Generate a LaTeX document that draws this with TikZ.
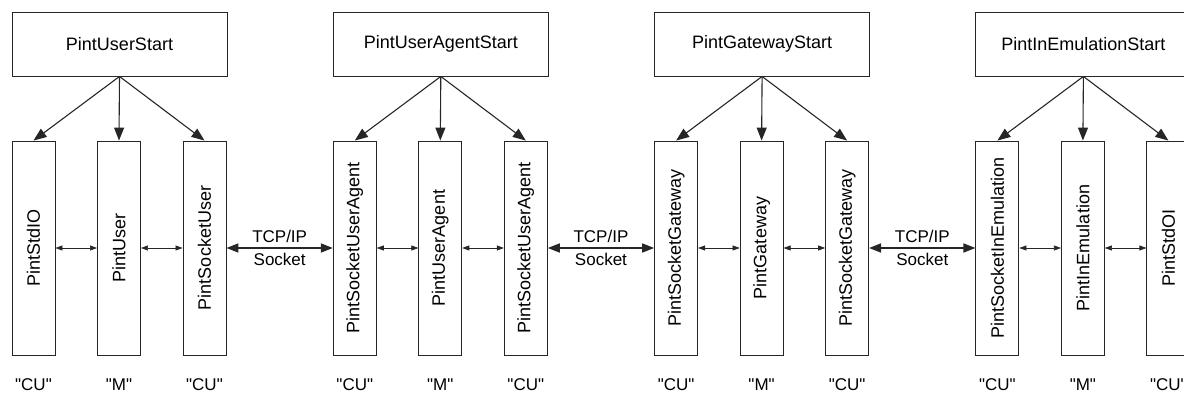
\documentclass[tikz,border=0pt]{standalone}
\usepackage{fontspec}
\usepackage{graphicx}
\setmainfont{Liberation Sans}
\usetikzlibrary{arrows.meta,calc}
\begin{document}
\begin{tikzpicture}[x=1pt,y=-1pt,
  ink/.style={draw=black!85},
  startbox/.style={ink, line width=0.9pt, minimum width=215pt, minimum height=64pt,
    inner sep=0pt, font=\fontsize{18}{21}\selectfont},
  modbox/.style={ink, line width=0.9pt, minimum width=43pt, minimum height=214pt,
    inner sep=0pt, font=\fontsize{18}{21}\selectfont},
  rolelabel/.style={font=\fontsize{17}{20}\selectfont, inner sep=0pt},
  spawn/.style={ink, line width=1.1pt, -{Triangle[length=13pt,width=10pt]}},
  link/.style={ink, line width=0.6pt, {Triangle[length=7pt,width=5pt]}-{Triangle[length=7pt,width=5pt]}},
  tcp/.style={ink, line width=1.6pt, {Triangle[length=12pt,width=9pt]}-{Triangle[length=12pt,width=9pt]}},
  tcplabel/.style={font=\fontsize{17}{23}\selectfont, align=center, inner sep=0pt}
]
\clip (0,0) rectangle (1184,396);

% one group: start process on top, three modules below
\foreach \g/\start/\ma/\mb/\mc/\ra/\rb/\rc in {
  0/PintUserStart/PintStdIO/PintUser/PintSocketUser/CU/M/CU,
  1/PintUserAgentStart/PintSocketUserAgent/PintUserAgent/PintSocketUserAgent/CU/M/CU,
  2/PintGatewayStart/PintSocketGateway/PintGateway/PintSocketGateway/CU/M/CU,
  3/PintInEmulationStart/PintSocketInEmulation/PintInEmulation/PintStdOI/CU/M/CU}{
  \pgfmathsetmacro{\X}{12+321.3*\g}
  \node[startbox] (s\g) at (\X+107.5,44) {\start};
  \node[modbox] (m\g a) at (\X+21.5,248) {\rotatebox{90}{\ma}};
  \node[modbox] (m\g b) at (\X+107,248) {\rotatebox{90}{\mb}};
  \node[modbox] (m\g c) at (\X+192.5,248) {\rotatebox{90}{\mc}};
  \node[rolelabel] (r\g a) at (\X+21.5,385) {\textquotedbl\ra\textquotedbl};
  \node[rolelabel] (r\g b) at (\X+107,385) {\textquotedbl\rb\textquotedbl};
  \node[rolelabel] (r\g c) at (\X+192.5,385) {\textquotedbl\rc\textquotedbl};
  \draw[spawn] (s\g.south) -- (m\g a.north);
  \draw[spawn] (s\g.south) -- (m\g b.north);
  \draw[spawn] (s\g.south) -- (m\g c.north);
  \draw[link] (m\g a.east) -- (m\g b.west);
  \draw[link] (m\g b.east) -- (m\g c.west);
}

% socket connections between neighbouring groups
\foreach \g/\h in {0/1,1/2,2/3}{
  \draw[tcp] (m\g c.east) -- (m\h a.west);
  \node[tcplabel] (t\g) at ($(m\g c.east)!0.5!(m\h a.west)+(0,-0.5)$) {TCP/IP\\Socket};
}
\end{tikzpicture}
\end{document}
